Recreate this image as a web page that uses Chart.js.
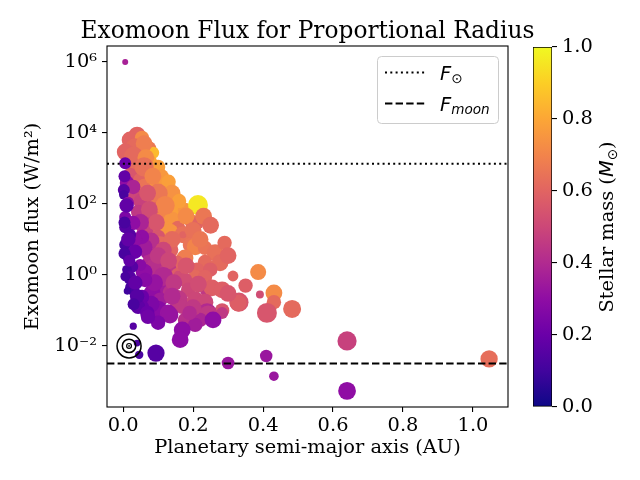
<!DOCTYPE html>
<html>
<head>
<meta charset="utf-8">
<script src="https://cdn.jsdelivr.net/npm/chart.js@4.4.0/dist/chart.umd.min.js"></script>
<style>
  html, body { margin: 0; padding: 0; background: #fff; }
  #wrap { position: relative; width: 640px; height: 480px; }
  canvas { position: absolute; left: 0; top: 0; }
</style>
</head>
<body>
<div id="wrap">
  <canvas id="main" width="640" height="480"></canvas>
  <canvas id="cbar" width="640" height="480"></canvas>
</div>
<script>
// semi-major axis of the host planet (AU)
const semiMajorAxis = [
  0.040, 0.020, 0.054, 0.034, 0.069, 0.006, 0.086, 0.049, 0.077, 0.040,
  0.071, 0.091, 0.020, 0.049, 0.077, 0.063, 0.100, 0.114, 0.034, 0.083,
  0.126, 0.054, 0.091, 0.106, 0.149, 0.177, 0.214, 0.043, 0.071, 0.114,
  0.140, 0.197, 0.214, 0.091, 0.157, 0.120, 0.134, 0.171, 0.171, 0.171,
  0.063, 0.100, 0.106, 0.191, 0.206, 0.234, 0.263, 0.134, 0.177, 0.277,
  0.234, 0.154, 0.211, 0.249, 0.386, 0.314, 0.206, 0.234,
  0.060, 0.030, 0.065, 0.100, 0.060, 0.110, 0.085, 0.130, 0.140, 0.100,
  0.070, 0.160, 0.120, 0.075, 0.180, 0.230, 0.250, 0.200, 0.095, 0.140,
  0.220, 0.290, 0.300,
  0.071, 0.077, 0.091, 0.129, 0.157, 0.157, 0.177, 0.111, 0.186, 0.240,
  0.254, 0.283, 0.134, 0.083, 0.391, 0.431, 0.157, 0.206, 0.106, 0.234,
  0.431, 0.331, 0.329, 0.169, 0.483, 0.411, 0.283, 0.100, 0.129, 0.240,
  0.283, 0.243, 0.134, 0.177, 0.220, 0.257, 0.100, 0.206, 0.169, 0.163,
  0.050, 0.080, 0.115, 0.060, 0.100, 0.130, 0.180, 0.060, 0.115, 0.145,
  0.215, 0.090, 0.140, 0.080, 0.200, 0.300, 0.350, 0.190,
  0.054, 0.034, 0.063, 0.049, 0.054, 0.057, 0.043, 0.069, 0.071, 0.029,
  0.011, 0.029, 0.002, 0.002, 0.014, 0.006, 0.029, 0.006, 0.020, 0.006,
  0.034, 0.011, 0.026, 0.011, 0.020, 0.014, 0.026, 0.006, 0.006,
  0.004, 0.010, 0.004, 0.015, 0.004, 0.018, 0.006, 0.035, 0.040, 0.030,
  0.012,
  0.094, 0.046, 0.040, 0.300, 0.640, 0.409, 0.431, 0.640, 1.046
];

// exomoon flux (W/m^2)
const moonFlux = [
  8700, 6300, 7200, 3800, 3300, 2900, 2750, 1740, 1500, 910,
  790, 910, 650, 470, 340, 280, 390, 245, 160, 150,
  130, 115, 93, 78, 59, 68, 93, 59, 35, 40,
  35, 31, 29, 21, 21, 19, 16, 15, 13.5, 13.5,
  16, 11.7, 7.1, 7.0, 6.2, 5.8, 4.2, 5.1, 3.0, 2.2,
  2.3, 2.2, 1.4, 1.4, 1.2, 0.93, 0.87, 0.87,
  5000, 2200, 2000, 1100, 1100, 600, 600, 420, 200, 200,
  200, 120, 90, 70, 45, 45, 25, 18, 30, 10,
  10, 8, 3.5,
  4.2, 2.6, 1.6, 1.4, 1.0, 1.0, 0.72, 0.46, 0.38, 0.38,
  0.43, 0.38, 0.33, 0.31, 0.28, 0.31, 0.20, 0.20, 0.20, 0.17,
  0.17, 0.17, 0.16, 0.126, 0.11, 0.085, 0.10, 0.10, 0.085, 0.085,
  0.085, 0.074, 0.074, 0.054, 0.054, 0.054, 0.045, 0.039, 0.028, 0.015,
  30, 9, 5, 6, 3.5, 2.5, 1.8, 1.2, 0.9, 0.6,
  0.55, 0.6, 0.25, 0.15, 0.12, 0.3, 0.5, 0.085,
  11.7, 9.7, 0.72, 1.9, 0.24, 0.126, 0.126, 0.085, 0.066, 0.036,
  390, 300, 245, 180, 107, 43, 29, 22, 13.5, 7.1,
  4.5, 3.2, 1.7, 1.4, 0.87, 0.72, 0.43, 1400, 1.0e6,
  600, 90, 30, 10, 4, 2.5, 0.9, 0.6, 0.25, 0.15,
  0.35,
  0.0063, 0.0056, 0.012, 0.0033, 0.0138, 0.0052, 0.0014, 0.00054, 0.0043
];

// host star mass (M_sun), drives the colour
const stellarMass = [
  0.60, 0.60, 0.72, 0.62, 0.66, 0.60, 0.85, 0.66, 0.80, 0.62,
  0.60, 0.75, 0.55, 0.60, 0.70, 0.65, 0.75, 0.75, 0.50, 0.45,
  0.75, 0.48, 0.68, 0.60, 0.78, 0.75, 0.96, 0.45, 0.45, 0.70,
  0.75, 0.62, 0.60, 0.60, 0.62, 0.75, 0.75, 0.62, 0.64, 0.60,
  0.48, 0.55, 0.62, 0.65, 0.70, 0.65, 0.64, 0.60, 0.68, 0.62,
  0.62, 0.60, 0.60, 0.58, 0.72, 0.60, 0.62, 0.60,
  0.68, 0.62, 0.72, 0.78, 0.64, 0.76, 0.70, 0.78, 0.74, 0.66,
  0.55, 0.78, 0.70, 0.52, 0.72, 0.66, 0.62, 0.64, 0.55, 0.62,
  0.66, 0.62, 0.60,
  0.35, 0.40, 0.42, 0.45, 0.58, 0.52, 0.52, 0.35, 0.50, 0.45,
  0.58, 0.58, 0.42, 0.30, 0.52, 0.72, 0.45, 0.50, 0.35, 0.50,
  0.62, 0.55, 0.58, 0.45, 0.62, 0.55, 0.55, 0.28, 0.32, 0.40,
  0.45, 0.45, 0.32, 0.42, 0.38, 0.30, 0.25, 0.35, 0.30, 0.30,
  0.38, 0.42, 0.50, 0.35, 0.45, 0.50, 0.55, 0.30, 0.40, 0.45,
  0.52, 0.32, 0.40, 0.25, 0.45, 0.55, 0.58, 0.40,
  0.30, 0.30, 0.28, 0.28, 0.20, 0.20, 0.17, 0.20, 0.22, 0.15,
  0.30, 0.38, 0.15, 0.12, 0.30, 0.25, 0.30, 0.15, 0.15, 0.12,
  0.20, 0.15, 0.15, 0.12, 0.15, 0.12, 0.12, 0.20, 0.37,
  0.18, 0.18, 0.12, 0.18, 0.12, 0.18, 0.12, 0.18, 0.15, 0.12,
  0.10,
  0.15, 0.12, 0.12, 0.33, 0.48, 0.33, 0.33, 0.30, 0.63
];

// proportional moon radius (relative), drives the marker size
const moonSize = [
  0.7, 0.7, 0.6, 0.8, 0.8, 0.7, 0.5, 0.7, 0.6, 0.8,
  0.3, 0.6, 0.6, 0.6, 0.5, 0.8, 0.7, 0.6, 0.6, 0.5,
  0.6, 0.7, 0.7, 0.7, 0.8, 0.6, 0.83, 0.6, 0.7, 0.6,
  0.7, 0.6, 0.5, 0.6, 0.6, 0.7, 0.7, 0.6, 0.7, 0.3,
  0.7, 0.6, 0.7, 0.6, 0.7, 0.6, 0.7, 0.7, 0.7, 0.7,
  0.6, 0.6, 0.6, 0.6, 0.67, 0.45, 0.6, 0.6,
  0.7, 0.8, 0.7, 0.6, 0.8, 0.6, 0.7, 0.6, 0.7, 0.8,
  0.7, 0.6, 0.8, 0.7, 0.7, 0.7, 0.7, 0.7, 0.7, 0.7,
  0.7, 0.6, 0.7,
  0.6, 0.6, 0.8, 0.7, 0.6, 0.35, 0.6, 0.6, 0.6, 0.6,
  0.7, 0.7, 0.6, 0.7, 0.33, 0.7, 0.8, 0.7, 0.6, 0.7,
  0.6, 0.8, 0.7, 0.6, 0.75, 0.83, 0.6, 0.8, 0.7, 0.8,
  0.5, 0.8, 0.7, 0.6, 0.6, 0.7, 0.6, 0.6, 0.7, 0.7,
  0.7, 0.7, 0.7, 0.7, 0.7, 0.7, 0.7, 0.7, 0.8, 0.7,
  0.7, 0.7, 0.7, 0.7, 0.7, 0.7, 0.6, 0.6,
  0.6, 0.6, 0.6, 0.5, 0.6, 0.5, 0.6, 0.6, 0.6, 0.3,
  0.6, 0.6, 0.5, 0.4, 0.5, 0.5, 0.6, 0.5, 0.5, 0.5,
  0.6, 0.4, 0.5, 0.4, 0.5, 0.3, 0.6, 0.5, 0.25,
  0.5, 0.6, 0.5, 0.6, 0.5, 0.5, 0.4, 0.6, 0.6, 0.5,
  0.3,
  0.72, 0.35, 0.28, 0.53, 0.8, 0.52, 0.4, 0.74, 0.72
];

const solarFlux = 1361;      // F_sun
const lunarFlux = 0.0032;    // F_moon
const moonMarker = { a: 0.017, flux: 0.01 };

const chartTitle = 'Exomoon Flux for Proportional Radius';
const xTicks = [0, 0.2, 0.4, 0.6, 0.8, 1.0];
const yTicks = [1e-2, 1, 1e2, 1e4, 1e6];
const yTickLabels = ['10\u207B\u00B2', '10\u2070', '10\u00B2', '10\u2074', '10\u2076'];
const massTicks = [0, 0.2, 0.4, 0.6, 0.8, 1.0];

const xMin = -0.046, xMax = 1.1;
const yMin = 1.9e-4, yMax = 2.8e6;

// plasma colormap anchors
const plasmaStops = ['#0d0887', '#41049d', '#6a00a8', '#8f0da4', '#b12a90', '#cc4778',
                     '#e16462', '#f2844b', '#fca636', '#fcce25', '#f0f921'];

function hexRgb(h) {
  return [parseInt(h.slice(1, 3), 16), parseInt(h.slice(3, 5), 16), parseInt(h.slice(5, 7), 16)];
}
function plasma(t) {
  t = Math.min(1, Math.max(0, t));
  const p = t * (plasmaStops.length - 1);
  const i = Math.min(Math.floor(p), plasmaStops.length - 2);
  const f = p - i;
  const a = hexRgb(plasmaStops[i]), b = hexRgb(plasmaStops[i + 1]);
  const c = a.map((v, k) => Math.round(v + (b[k] - v) * f));
  return `rgb(${c[0]},${c[1]},${c[2]})`;
}

const fontPx = 19.4;
Chart.defaults.font.family = '"DejaVu Serif", serif';
Chart.defaults.font.size = fontPx;
Chart.defaults.color = '#000';

const serif = '"DejaVu Serif", serif';
const mathFont = '"DejaVu Sans", sans-serif';

// spines on all four sides + title centred over the axes
const framePlugin = {
  id: 'frame',
  afterDraw(chart) {
    const { left, right, top, bottom } = chart.chartArea;
    const ctx = chart.ctx;
    ctx.save();
    ctx.strokeStyle = '#000';
    ctx.lineWidth = 1.1;
    ctx.strokeRect(left, top, right - left, bottom - top);
    ctx.fillStyle = '#000';
    ctx.font = '23.3px ' + serif;
    ctx.textAlign = 'center';
    ctx.textBaseline = 'alphabetic';
    ctx.fillText(chartTitle, (left + right) / 2, top - 7.7);
    ctx.restore();
  }
};

// matplotlib-style legend box in the upper right
const legendPlugin = {
  id: 'mplLegend',
  afterDraw(chart) {
    const { right, top } = chart.chartArea;
    const ctx = chart.ctx;
    const x0 = right - 130.5, y0 = top + 10.5, w = 121, h = 67;
    ctx.save();
    ctx.beginPath();
    ctx.roundRect(x0, y0, w, h, 4);
    ctx.fillStyle = 'rgba(255,255,255,0.8)';
    ctx.fill();
    ctx.strokeStyle = '#cccccc';
    ctx.lineWidth = 1;
    ctx.stroke();

    ctx.strokeStyle = '#000';
    ctx.lineWidth = 2;
    ctx.setLineDash([2, 3.3]);
    ctx.beginPath(); ctx.moveTo(x0 + 7.5, y0 + 16); ctx.lineTo(x0 + 47.5, y0 + 16); ctx.stroke();
    ctx.setLineDash([7.4, 3.2]);
    ctx.beginPath(); ctx.moveTo(x0 + 7.5, y0 + 47); ctx.lineTo(x0 + 47.5, y0 + 47); ctx.stroke();
    ctx.setLineDash([]);

    ctx.fillStyle = '#000';
    ctx.textBaseline = 'alphabetic';
    ctx.textAlign = 'left';
    const tx = x0 + 62.5;
    ctx.font = 'italic ' + fontPx + 'px ' + mathFont;
    ctx.fillText('F', tx, y0 + 23);
    const fw = ctx.measureText('F').width;
    ctx.font = (fontPx * 0.7) + 'px ' + mathFont;
    ctx.fillText('\u2299', tx + fw, y0 + 26.5);

    ctx.font = 'italic ' + fontPx + 'px ' + mathFont;
    ctx.fillText('F', tx, y0 + 54);
    ctx.font = 'italic ' + (fontPx * 0.7) + 'px ' + mathFont;
    ctx.fillText('moon', tx + fw, y0 + 57.5);
    ctx.restore();
  }
};

new Chart(document.getElementById('main'), {
  type: 'scatter',
  data: {
    datasets: [
      {
        data: [{ x: xMin, y: solarFlux }, { x: xMax, y: solarFlux }],
        showLine: true, borderColor: '#000', borderWidth: 2, borderDash: [2, 3.3],
        pointRadius: 0
      },
      {
        data: [{ x: xMin, y: lunarFlux }, { x: xMax, y: lunarFlux }],
        showLine: true, borderColor: '#000', borderWidth: 2, borderDash: [7.4, 3.2],
        pointRadius: 0
      },
      {
        data: [0, 1, 2, 3].map(() => ({ x: moonMarker.a, y: moonMarker.flux })),
        pointRadius: [12, 6.7, 2.4, 0.9],
        pointBackgroundColor: ['rgba(0,0,0,0)', 'rgba(0,0,0,0)', 'rgba(0,0,0,0)', '#000'],
        pointBorderColor: '#000',
        pointBorderWidth: [1.5, 1.5, 1.2, 0]
      },
      {
        data: semiMajorAxis.map((a, i) => ({ x: a, y: moonFlux[i] })),
        pointRadius: ctx => moonSize[ctx.dataIndex] * 12,
        pointBackgroundColor: stellarMass.map(plasma),
        pointBorderWidth: 0
      }
    ]
  },
  options: {
    responsive: false,
    animation: false,
    events: [],
    layout: { padding: { left: 0, right: 132, top: 46, bottom: 0 } },
    plugins: {
      legend: { display: false },
      tooltip: { enabled: false },
      title: { display: false }
    },
    scales: {
      x: {
        type: 'linear',
        min: xMin, max: xMax,
        afterBuildTicks: s => { s.ticks = xTicks.map(v => ({ value: v })); },
        afterFit: s => { s.height = 73; },
        ticks: { callback: v => v.toFixed(1), maxRotation: 0, autoSkip: false, padding: 2.3 },
        grid: { drawOnChartArea: false, tickLength: 5, color: '#000', lineWidth: 1.1 },
        border: { display: false },
        title: { display: true, text: 'Planetary semi-major axis (AU)', padding: { top: 0, bottom: 20.2 } }
      },
      y: {
        type: 'logarithmic',
        min: yMin, max: yMax,
        afterBuildTicks: s => { s.ticks = yTicks.map(v => ({ value: v })); },
        afterFit: s => { s.width = 107; },
        ticks: { callback: v => yTickLabels[yTicks.indexOf(v)], autoSkip: false, padding: 5 },
        grid: { drawOnChartArea: false, tickLength: 5, color: '#000', lineWidth: 1.1 },
        border: { display: false },
        title: { display: true, text: 'Exomoon flux (W/m\u00B2)', padding: { top: 21.4, bottom: 0 } }
      }
    }
  },
  plugins: [framePlugin, legendPlugin]
});

// colour bar
function plasmaGradient(chart) {
  const a = chart.chartArea;
  if (!a) return 'rgba(0,0,0,0)';
  const g = chart.ctx.createLinearGradient(0, a.bottom, 0, a.top);
  plasmaStops.forEach((c, i) => g.addColorStop(i / (plasmaStops.length - 1), c));
  return g;
}

const cbarLabelPlugin = {
  id: 'cbarLabel',
  afterDraw(chart) {
    const { right, top, bottom } = chart.chartArea;
    const ctx = chart.ctx;
    ctx.save();
    ctx.translate(right + 61, (top + bottom) / 2);
    ctx.rotate(-Math.PI / 2);
    ctx.fillStyle = '#000';
    ctx.textBaseline = 'alphabetic';
    const parts = [
      ['Stellar mass (', fontPx + 'px ' + serif, 0],
      ['M', 'italic ' + fontPx + 'px ' + mathFont, 0],
      ['\u2299', (fontPx * 0.7) + 'px ' + mathFont, 3.5],
      [')', fontPx + 'px ' + serif, 0]
    ];
    let total = 0;
    parts.forEach(p => { ctx.font = p[1]; total += ctx.measureText(p[0]).width; });
    let x = -total / 2;
    parts.forEach(p => {
      ctx.font = p[1];
      ctx.fillText(p[0], x, p[2]);
      x += ctx.measureText(p[0]).width;
    });
    ctx.restore();
  }
};

new Chart(document.getElementById('cbar'), {
  type: 'bar',
  data: {
    labels: [''],
    datasets: [{
      data: [[0, 1]],
      backgroundColor: ctx => plasmaGradient(ctx.chart),
      borderColor: '#000',
      borderWidth: 1,
      borderSkipped: false,
      barPercentage: 1,
      categoryPercentage: 1
    }]
  },
  options: {
    responsive: false,
    animation: false,
    events: [],
    layout: { padding: { left: 533, right: 0, top: 47, bottom: 73 } },
    plugins: { legend: { display: false }, tooltip: { enabled: false } },
    scales: {
      x: { display: false },
      y: {
        position: 'right',
        min: 0, max: 1,
        afterBuildTicks: s => { s.ticks = massTicks.map(v => ({ value: v })); },
        afterFit: s => { s.width = 88; },
        ticks: { callback: v => v.toFixed(1), padding: 5 },
        grid: { drawOnChartArea: false, tickLength: 5, color: '#000', lineWidth: 1.1 },
        border: { display: false }
      }
    }
  },
  plugins: [cbarLabelPlugin]
});
</script>
</body>
</html>
